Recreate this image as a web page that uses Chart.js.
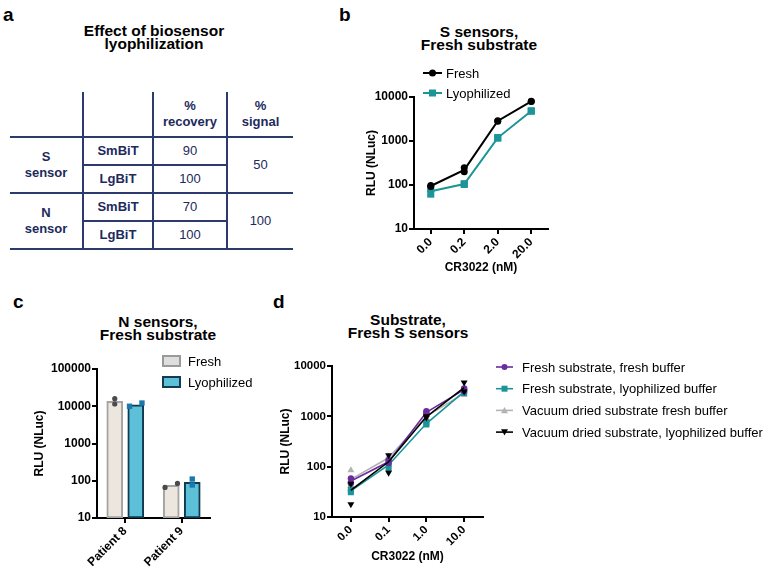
<!DOCTYPE html>
<html>
<head>
<meta charset="utf-8">
<title>Biosensor lyophilization</title>
<script src="https://cdn.jsdelivr.net/npm/chart.js@4.4.1/dist/chart.umd.min.js"></script>
<style>
  body { margin: 0; background: #fff; }
  #fig { position: relative; width: 772px; height: 570px; overflow: hidden;
         font-family: "Liberation Sans", Arial, sans-serif; color: #000; }
  .lbl { position: absolute; font-size: 19px; font-weight: bold; line-height: 19px; }
  .ttl { position: absolute; width: 240px; text-align: center; font-size: 15.5px;
         font-weight: bold; line-height: 13px; }
  canvas { position: absolute; }
  #tbl { position: absolute; left: 10px; top: 92px; border-collapse: collapse;
         table-layout: fixed; width: 283px; color: #1c2a5c; font-size: 13px; }
  #tbl td { padding: 0; text-align: center; vertical-align: middle; line-height: 16px; }
  #tbl tr.h td { height: 44px; }
  #tbl tr.r td { height: 26px; }
  #tbl .bl { border-left: 2px solid #2d3a6e; }
  #tbl .bb { border-bottom: 2px solid #2d3a6e; }
  #tbl .b { font-weight: bold; }
</style>
</head>
<body>
<div id="fig">
  <div class="lbl" style="left:3px;top:5px">a</div>
  <div class="lbl" style="left:339px;top:5px">b</div>
  <div class="lbl" style="left:13px;top:292px">c</div>
  <div class="lbl" style="left:273px;top:292px">d</div>

  <div class="ttl" style="left:34px;top:24px">Effect of biosensor<br>lyophilization</div>
  <div class="ttl" style="left:359px;top:25px">S sensors,<br>Fresh substrate</div>
  <div class="ttl" style="left:38px;top:315px">N sensors,<br>Fresh substrate</div>
  <div class="ttl" style="left:288px;top:313px">Substrate,<br>Fresh S sensors</div>

  <table id="tbl">
    <colgroup><col style="width:73px"><col style="width:70px"><col style="width:74px"><col style="width:66px"></colgroup>
    <tr class="h">
      <td class="bb"></td>
      <td class="bl bb"></td>
      <td class="bl bb b">%<br>recovery</td>
      <td class="bl bb b">%<br>signal</td>
    </tr>
    <tr class="r">
      <td class="bb b" rowspan="2">S<br>sensor</td>
      <td class="bl bb b">SmBiT</td>
      <td class="bl bb">90</td>
      <td class="bl bb" rowspan="2">50</td>
    </tr>
    <tr class="r">
      <td class="bl bb b">LgBiT</td>
      <td class="bl bb">100</td>
    </tr>
    <tr class="r">
      <td class="bb b" rowspan="2">N<br>sensor</td>
      <td class="bl bb b">SmBiT</td>
      <td class="bl bb">70</td>
      <td class="bl bb" rowspan="2">100</td>
    </tr>
    <tr class="r">
      <td class="bl bb b">LgBiT</td>
      <td class="bl bb">100</td>
    </tr>
  </table>

  <canvas id="chartB" width="220" height="222" style="left:340px;top:58px"></canvas>
  <canvas id="chartC" width="270" height="225" style="left:0px;top:345px"></canvas>
  <canvas id="chartD" width="502" height="216" style="left:270px;top:354px"></canvas>
</div>

<script>
// ---- panel b: S sensors, fresh substrate ----
var dosesB = ["0.0", "0.2", "2.0", "20.0"];
var freshB = [95, 220, 2850, 7950];
var freshRepB = [[98, 92], [247, 200], [2900, 2800], [8000, 7900]];
var lyoB = [72, 105, 1180, 4800];
var lyoRepB = [[82, 62], [107, 103], [1200, 1160], [4850, 4750]];
var ticksB = [10, 100, 1000, 10000];

// ---- panel c: N sensors, fresh substrate ----
var patients = ["Patient 8", "Patient 9"];
var freshC = [13600, 75];
var lyoC = [11000, 90];
var freshRepC = [[16000, 11500], [66, 85]];
var lyoRepC = [[10000, 12200], [111, 77]];
var ticksC = [10, 100, 1000, 10000, 100000];

// ---- panel d: substrate, fresh S sensors ----
var dosesD = ["0.0", "0.1", "1.0", "10.0"];
var ffD = [52, 125, 1200, 3400];
var ffRepD = [[58, 47], [135, 118], [1260, 1150], [3600, 3200]];
var flD = [33, 108, 720, 3100];
var flRepD = [[35, 31], [94, 122], [690, 760], [3350, 2900]];
var vfD = [56, 150, 1000, 2850];
var vfRepD = [[85, 42], [160, 108], [1080, 920], [2650, 3100]];
var vlD = [34, 125, 980, 3700];
var vlRepD = [[46, 18], [168, 76], [1000, 950], [4700, 3100]];
var ticksD = [10, 100, 1000, 10000];

Chart.defaults.font.family = '"Liberation Sans", Arial, sans-serif';
Chart.defaults.color = "#000";
Chart.defaults.animation = false;

var TEAL = "#1b9597";
var PURPLE = "#6a2c9e";
var GREY = "#b3b3b3";

// small marker drawer used by the legends
function mark(ctx, style, x, y, r) {
  ctx.beginPath();
  if (style === "circle") {
    ctx.arc(x, y, r, 0, Math.PI * 2);
  } else if (style === "rect") {
    ctx.rect(x - r, y - r, 2 * r, 2 * r);
  } else if (style === "triangle") {
    ctx.moveTo(x, y - r); ctx.lineTo(x + r, y + r * 0.8); ctx.lineTo(x - r, y + r * 0.8);
  } else {
    ctx.moveTo(x, y + r); ctx.lineTo(x + r, y - r * 0.8); ctx.lineTo(x - r, y - r * 0.8);
  }
  ctx.closePath();
  ctx.fill();
}

// legend drawn at a fixed spot (GraphPad style, overlapping the plot region)
var spotLegend = {
  id: "spotLegend",
  afterDraw: function (chart, args, o) {
    if (!o.items) return;
    var ctx = chart.ctx;
    ctx.save();
    ctx.font = "13px " + Chart.defaults.font.family;
    ctx.textBaseline = "middle";
    o.items.forEach(function (it, i) {
      var y = o.y + i * o.gap;
      if (it.box) {
        ctx.fillStyle = it.fill;
        ctx.strokeStyle = it.stroke;
        ctx.lineWidth = 2;
        ctx.fillRect(o.x, y - 5, 17, 10);
        ctx.strokeRect(o.x, y - 5, 17, 10);
      } else {
        ctx.strokeStyle = it.color;
        ctx.fillStyle = it.color;
        ctx.lineWidth = o.lw;
        ctx.beginPath(); ctx.moveTo(o.x, y); ctx.lineTo(o.x + o.len, y); ctx.stroke();
        mark(ctx, it.style, o.x + o.len / 2, y, it.r);
      }
      ctx.fillStyle = "#000";
      ctx.fillText(it.text, o.textX, y + 1);
    });
    ctx.restore();
  }
};

function logAxis(ticks, width, titlePad, size) {
  return {
    type: "logarithmic",
    min: ticks[0],
    max: ticks[ticks.length - 1],
    afterBuildTicks: function (s) { s.ticks = ticks.map(function (v) { return { value: v }; }); },
    afterFit: function (s) { s.width = width; s.paddingTop = 0; s.paddingBottom = 0; },
    ticks: { color: "#000", font: { size: size, weight: "bold" }, padding: 1,
             callback: function (v) { return String(v); } },
    grid: { drawOnChartArea: false, drawTicks: true, tickLength: 5, color: "#000", lineWidth: 2 },
    border: { color: "#000", width: 2 },
    title: { display: true, text: "RLU (NLuc)", color: "#000", font: { size: 12, weight: "bold" },
             padding: { top: titlePad, bottom: 0 } }
  };
}

function catAxis(height, title, titlePad, size) {
  return {
    type: "category",
    offset: true,
    afterFit: function (s) { s.height = height; s.paddingLeft = 0; s.paddingRight = 0; },
    ticks: { color: "#000", font: { size: size, weight: "bold" }, minRotation: 45, maxRotation: 45,
             autoSkip: false, padding: 1 },
    grid: { offset: false, drawOnChartArea: false, drawTicks: true, tickLength: 5, color: "#000", lineWidth: 2 },
    border: { color: "#000", width: 2 },
    title: { display: !!title, text: title || "", color: "#000", font: { size: 12, weight: "bold" },
             padding: { top: 0, bottom: titlePad } }
  };
}

// replicate points on a category axis
function reps(labels, values) {
  var pts = [];
  values.forEach(function (vals, i) {
    vals.forEach(function (v) { pts.push({ x: labels[i], y: v }); });
  });
  return pts;
}

function meanLine(label, data, color, lw) {
  return { type: "line", label: label, data: data, borderColor: color, backgroundColor: color,
           borderWidth: lw, pointRadius: 0, tension: 0 };
}

function repDots(label, data, color, style, r, rot) {
  return { type: "line", label: label, data: data, showLine: false, backgroundColor: color,
           borderColor: color, borderWidth: 0, pointStyle: style, pointRadius: r,
           pointRotation: rot || 0 };
}

// ---------- panel b ----------
new Chart(document.getElementById("chartB"), {
  type: "line",
  data: {
    labels: dosesB,
    datasets: [
      meanLine("Fresh", freshB, "#000", 2),
      repDots("Fresh reps", reps(dosesB, freshRepB), "#000", "circle", 3.5),
      meanLine("Lyophilized", lyoB, TEAL, 2),
      repDots("Lyophilized reps", reps(dosesB, lyoRepB), TEAL, "rect", 5)
    ]
  },
  options: {
    responsive: false,
    layout: { padding: { left: 0, top: 39, right: 12, bottom: 0 } },
    plugins: {
      legend: { display: false },
      tooltip: { enabled: false },
      spotLegend: {
        x: 83, y: 15, gap: 20, len: 19, lw: 2, textX: 106,
        items: [
          { text: "Fresh", color: "#000", style: "circle", r: 3.5 },
          { text: "Lyophilized", color: TEAL, style: "rect", r: 3.5 }
        ]
      }
    },
    scales: {
      x: catAxis(51, "CR3022 (nM)", 5, 12),
      y: logAxis(ticksB, 74, 24, 12)
    }
  },
  plugins: [spotLegend]
});

// ---------- panel c ----------
// replicate dots sit over their bar: bar slot is 21px of a 56.5px category
var barShift = 10.5 / 56.5;
var dotSpread = 0.11;
function barDots(values, side, spread) {
  var pts = [];
  values.forEach(function (vals, i) {
    vals.forEach(function (v, k) {
      var dx = spread[i] ? (k === 0 ? -dotSpread : dotSpread) : 0;
      pts.push({ x: i + side * barShift + dx, y: v });
    });
  });
  return pts;
}

new Chart(document.getElementById("chartC"), {
  type: "bar",
  data: {
    labels: patients,
    datasets: [
      { type: "scatter", label: "Fresh reps", xAxisID: "xr", data: barDots(freshRepC, -1, [0, 1]),
        backgroundColor: "#4a4a4a", borderWidth: 0, pointStyle: "circle", pointRadius: 2.6 },
      { type: "scatter", label: "Lyophilized reps", xAxisID: "xr", data: barDots(lyoRepC, 1, [1, 0]),
        backgroundColor: "#1a78ad", borderWidth: 0, pointStyle: "rect", pointRadius: 3.8 },
      { label: "Fresh", data: freshC, backgroundColor: "#ede6de", borderColor: "#a3a3a3",
        borderWidth: 2, borderSkipped: false, barThickness: 21, maxBarThickness: 16 },
      { label: "Lyophilized", data: lyoC, backgroundColor: "#5dc0d9", borderColor: "#103b4f",
        borderWidth: 2, borderSkipped: false, barThickness: 21, maxBarThickness: 16 }
    ]
  },
  options: {
    responsive: false,
    layout: { padding: { left: 0, top: 24, right: 60, bottom: 0 } },
    plugins: {
      legend: { display: false },
      tooltip: { enabled: false },
      spotLegend: {
        x: 163, y: 16, gap: 21, textX: 188,
        items: [
          { text: "Fresh", box: true, fill: "#dedede", stroke: "#9a9a9a" },
          { text: "Lyophilized", box: true, fill: "#5dc0d9", stroke: "#123c50" }
        ]
      }
    },
    scales: {
      x: catAxis(52, null, 0, 12),
      xr: { type: "linear", display: false, offset: false, grid: { offset: false },
            min: -0.5, max: 1.5 },
      y: logAxis(ticksC, 97, 32, 12)
    }
  },
  plugins: [spotLegend]
});

// ---------- panel d ----------
new Chart(document.getElementById("chartD"), {
  type: "line",
  data: {
    labels: dosesD,
    datasets: [
      meanLine("Vacuum dried substrate, lyophilized buffer", vlD, "#000", 1.6),
      repDots("vl reps", reps(dosesD, vlRepD), "#000", "triangle", 4, 180),
      meanLine("Fresh substrate, fresh buffer", ffD, PURPLE, 1.6),
      repDots("ff reps", reps(dosesD, ffRepD), PURPLE, "circle", 3.2),
      meanLine("Fresh substrate, lyophilized buffer", flD, TEAL, 1.6),
      repDots("fl reps", reps(dosesD, flRepD), TEAL, "rect", 4.3),
      meanLine("Vacuum dried substrate fresh buffer", vfD, GREY, 1.6),
      repDots("vf reps", reps(dosesD, vfRepD), GREY, "triangle", 4)
    ]
  },
  options: {
    responsive: false,
    layout: { padding: { left: 0, top: 12, right: 289, bottom: 0 } },
    plugins: {
      legend: { display: false },
      tooltip: { enabled: false },
      spotLegend: {
        x: 226, y: 13, gap: 21.7, len: 17, lw: 1.6, textX: 252,
        items: [
          { text: "Fresh substrate, fresh buffer", color: PURPLE, style: "circle", r: 3 },
          { text: "Fresh substrate, lyophilized buffer", color: TEAL, style: "rect", r: 3 },
          { text: "Vacuum dried substrate fresh buffer", color: GREY, style: "triangle", r: 3.5 },
          { text: "Vacuum dried substrate, lyophilized buffer", color: "#000", style: "down", r: 3.5 }
        ]
      }
    },
    scales: {
      x: catAxis(53, "CR3022 (nM)", 6, 11.5),
      y: logAxis(ticksD, 62, 8, 11.5)
    }
  },
  plugins: [spotLegend]
});
</script>
</body>
</html>
